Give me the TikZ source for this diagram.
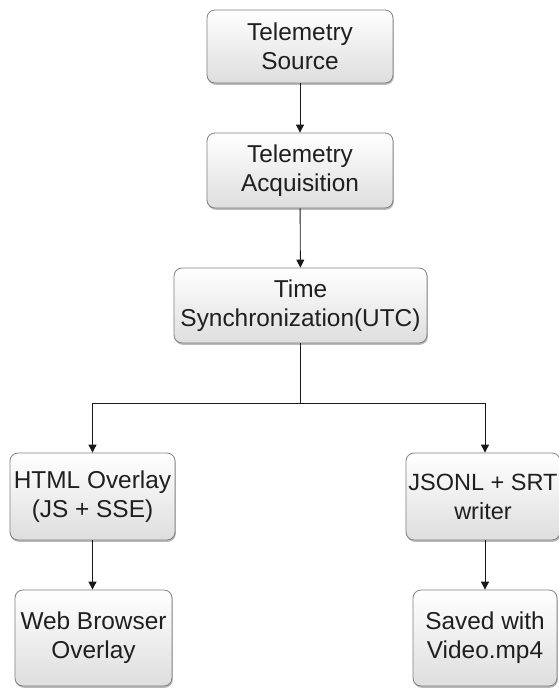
\documentclass[tikz,border=0pt]{standalone}
\usepackage{fontspec}
\setmainfont{Liberation Sans}
\usetikzlibrary{arrows.meta,shadows}

\tikzset{
  stepbox/.style={
    rectangle, rounded corners=8pt, align=center,
    draw=black!50, line width=0.8pt,
    top color=white, bottom color=black!13,
    drop shadow={shadow xshift=0.8pt, shadow yshift=-1.8pt, fill=black!50, opacity=0.55},
    text=black!88, inner sep=1pt,
    font=\fontsize{24.4}{29}\selectfont
  },
  flow/.style={draw=black!90, line width=0.9pt},
  flowarrow/.style={flow, -{Triangle[width=8pt,length=8pt]}}
}

\begin{document}
\begin{tikzpicture}[x=1pt,y=-1pt]
  \useasboundingbox[fill=white] (0,0) rectangle (558,689);

  % main chain
  \node[stepbox, minimum width=186pt, minimum height=73pt] (src) at (300,46.5) {Telemetry\\Source};
  \node[stepbox, minimum width=186pt, minimum height=75pt] (acq) at (300,170.5) {Telemetry\\Acquisition};
  \node[stepbox, minimum width=253pt, minimum height=75pt] (sync) at (300.5,305.5) {Time\\Synchronization(UTC)};

  % left branch
  \node[stepbox, minimum width=165pt, minimum height=87pt] (html) at (92.5,496.5) {HTML Overlay\\(JS + SSE)};
  \node[stepbox, minimum width=157pt, minimum height=96pt] (web) at (93.5,638) {Web Browser\\Overlay};

  % right branch (box runs up to the right margin)
  \node[stepbox, minimum width=154pt, minimum height=87pt,
        font=\fontsize{23.5}{29}\selectfont] (writer) at (483,496.5) {JSONL + SRT\\writer};
  \node[stepbox, minimum width=144pt, minimum height=96pt] (saved) at (485,638) {Saved with\\Video.mp4};

  \coordinate (split) at (300.5,403);

  % connectors
  \draw[flowarrow] (src) -- (acq);
  \draw[flowarrow] (acq) -- (sync);
  \draw[flow] (sync) -- (split);
  \draw[flowarrow] (split) -| ([xshift=2pt]writer.north);
  \draw[flowarrow] (split) -| (html);
  \draw[flowarrow] (html.south) -- (html.south |- web.north);
  \draw[flowarrow] ([xshift=2pt]writer.south) -- (saved);
\end{tikzpicture}
\end{document}
